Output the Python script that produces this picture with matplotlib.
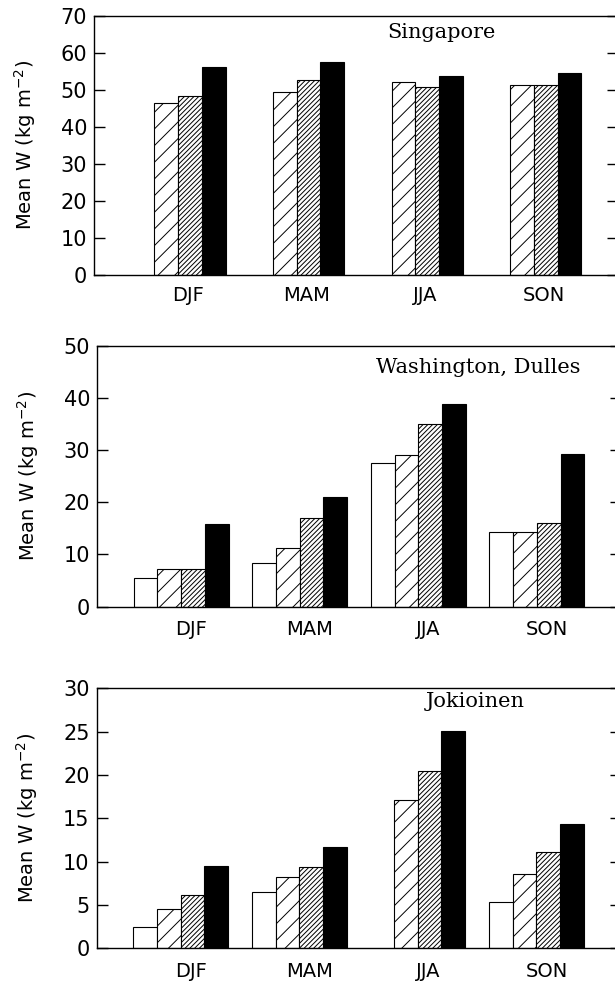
import numpy as np
import matplotlib
matplotlib.use('Agg')
import matplotlib.pyplot as plt

# 季节和站点
seasons = ['DJF', 'MAM', 'JJA', 'SON']
stations = ['Singapore', 'Washington, Dulles', 'Jokioinen']

# 每个站点四组柱子 (空白 / 稀疏斜线 / 密斜线 / 黑色), nan = 没有数据
singapore_open = [np.nan, np.nan, np.nan, np.nan]
singapore_sparse = [46.3, 49.5, 52.1, 51.4]
singapore_dense = [48.4, 52.6, 50.6, 51.4]
singapore_black = [56.0, 57.6, 53.8, 54.5]

dulles_open = [5.4, 8.4, 27.5, 14.4]
dulles_sparse = [7.2, 11.3, 29.0, 14.3]
dulles_dense = [7.3, 17.0, 35.0, 16.0]
dulles_black = [15.9, 21.1, 38.9, 29.3]

jokioinen_open = [2.5, 6.5, np.nan, 5.3]
jokioinen_sparse = [4.5, 8.2, 17.1, 8.6]
jokioinen_dense = [6.2, 9.4, 20.5, 11.1]
jokioinen_black = [9.5, 11.7, 25.1, 14.3]

y_tops = [70, 50, 30]
y_steps = [10, 10, 5]

plt.rcParams['hatch.linewidth'] = 0.7
plt.rcParams['axes.linewidth'] = 1.0

fig = plt.figure(figsize=(6.15, 9.82), dpi=100)

# 轴的位置 (像素 -> 比例)
W, H = 615.0, 982.0
boxes = [(94, 274.7, 259.0), (97, 606.6, 260.6), (96.5, 948.3, 260.0)]
ax_width = 524.0

all_data = [
    (singapore_open, singapore_sparse, singapore_dense, singapore_black),
    (dulles_open, dulles_sparse, dulles_dense, dulles_black),
    (jokioinen_open, jokioinen_sparse, jokioinen_dense, jokioinen_black),
]
# 站名位置 (axes 坐标, 基线)
name_pos = [(0.664, 0.914), (0.727, 0.896), (0.723, 0.928)]
xlabel_pads = [8, 10, 10]

x = np.arange(1, 5)
offsets = [-0.3, -0.1, 0.1, 0.3]
hatches = [None, '//', '///////', None]
faces = ['white', 'white', 'white', 'black']

for k in range(3):
    left, bottom, height = boxes[k]
    ax = fig.add_axes([left / W, 1 - bottom / H, ax_width / W, height / H])
    for j in range(4):
        ax.bar(x + offsets[j], all_data[k][j], width=0.2, color=faces[j],
               edgecolor='black', linewidth=0.8, hatch=hatches[j])
    ax.set_xlim(0.29, 4.71)
    ax.set_ylim(0, y_tops[k])
    ax.set_yticks(np.arange(0, y_tops[k] + 1, y_steps[k]))
    ax.set_xticks(x + 0.085)
    ax.set_xticklabels(seasons)
    ax.tick_params(axis='x', length=0, pad=xlabel_pads[k], labelsize=14)
    ax.tick_params(axis='y', direction='in', length=8, width=1.0, right=True,
                   labelsize=15, pad=5)
    ax.set_ylabel(r'Mean W (kg m$^{-2}$)', fontsize=14)
    ax.yaxis.set_label_coords(-0.107, 0.5)
    ax.text(name_pos[k][0], name_pos[k][1], stations[k], transform=ax.transAxes,
            ha='center', va='baseline', fontsize=15, family='DejaVu Serif')

fig.savefig('out.png', dpi=100)
